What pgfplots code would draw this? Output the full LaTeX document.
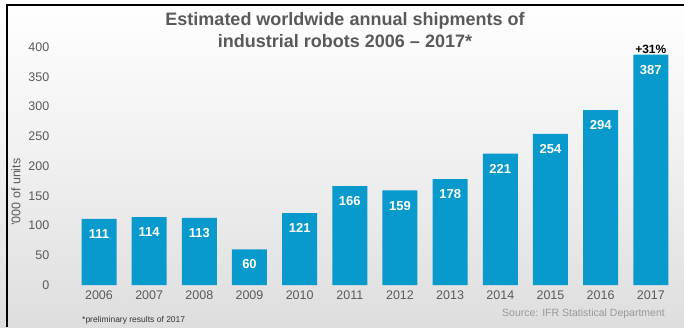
\documentclass[border=0pt]{standalone}
\usepackage{pgfplots}
\pgfplotsset{compat=1.18}
\usepackage{fontspec}
\setmainfont{Liberation Sans}
\definecolor{barblue}{RGB}{8,154,204}
\definecolor{txtgray}{RGB}{90,90,90}
\begin{document}
\begin{tikzpicture}[x=1pt,y=1pt]
\useasboundingbox (0,0) rectangle (684,327);
\shade[top color=white, bottom color=black!13, middle color=black!6] (0,0) rectangle (684,327);
\draw[black, line width=1.8pt] (7,0) -- (7,322) -- (684,322);
\begin{axis}[
  at={(99pt,42pt)}, anchor=origin,
  width=615pt, height=238pt, scale only axis,
  ybar, bar width=35pt,
  xmin=-0.76, xmax=11.5, ymin=0, ymax=400,
  xtick=data,
  xticklabels={2006,2007,2008,2009,2010,2011,2012,2013,2014,2015,2016,2017},
  ytick={0,50,...,400},
  axis line style={draw=none},
  major tick length=0pt,
  tick label style={font=\fontsize{12.5}{14}\selectfont, text=txtgray},
  yticklabel style={xshift=-8pt},
  xticklabel style={yshift=-2pt},
  /pgf/number format/assume math mode=true,
  ylabel={'000 of units},
  ylabel style={font=\fontsize{12.5}{14}\selectfont, text=txtgray, at={(axis description cs:-0.073,0.39)}, anchor=center},
  clip=false,
  nodes near coords,
  nodes near coords style={anchor=north, yshift=-7pt, text=white, font=\bfseries\fontsize{13}{15}\selectfont},
]
\addplot[fill=barblue, draw=none] coordinates {
(0,111) (1,114) (2,113) (3,60) (4,121) (5,166) (6,159) (7,178) (8,221) (9,254) (10,294) (11,387)};
\node[anchor=south, font=\bfseries\fontsize{12}{14}\selectfont, inner sep=1pt] at (axis cs:11,387) {+31\%};
\end{axis}
\node[align=center, font=\bfseries\fontsize{18}{21.5}\selectfont, text=txtgray] at (345,297) {Estimated worldwide annual shipments of\\industrial robots 2006 -- 2017*};
\node[anchor=base west, font=\fontsize{8.5}{9}\selectfont, text=black!80, inner sep=0pt] at (82,5) {*preliminary results of 2017};
\node[anchor=base east, font=\fontsize{10.5}{12}\selectfont, text=black!40, inner sep=0pt] at (665,11) {Source: IFR Statistical Department};
\end{tikzpicture}
\end{document}
